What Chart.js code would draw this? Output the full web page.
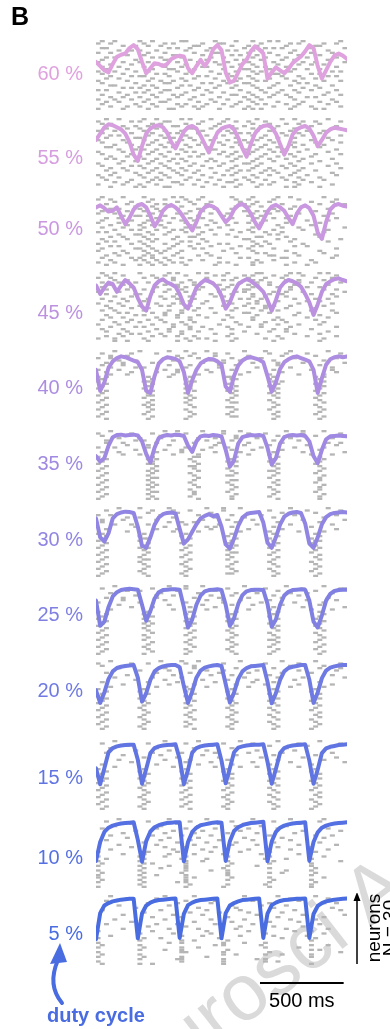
<!DOCTYPE html>
<html>
<head>
<meta charset="utf-8">
<script src="https://cdn.jsdelivr.net/npm/chart.js@4.4.1/dist/chart.umd.min.js"></script>
<style>
  body { margin: 0; background: #fff; font-family: "Liberation Sans", Arial, sans-serif; }
  #page { position: relative; width: 390px; height: 1029px; overflow: hidden; }
  canvas { position: absolute; }
  .lab { position: absolute; right: 307px; font-size: 20px; line-height: 20px; transform: translateY(-50%); white-space: nowrap; }
  #panelB { position: absolute; left: 11px; top: 2px; font-size: 25px; font-weight: bold; }
  #duty { position: absolute; left: 47px; top: 1004px; font-size: 20px; font-weight: bold; color: #4a6ce1; white-space: nowrap; }
  svg { position: absolute; left: 0; top: 0; }
</style>
</head>
<body>
<div id="page">
  <canvas id="wm" width="390" height="1029" style="left:0;top:0"></canvas>
  <div id="panelB">B</div>
  <div id="duty">duty cycle</div>
  <svg width="390" height="1029">
    <path d="M62 1003 Q47 985 58 960" fill="none" stroke="#4a6ce1" stroke-width="4" stroke-linecap="round"/>
    <path d="M60 943 L50 964 L67 962 Z" fill="#4a6ce1"/>
  </svg>
</div>
<script>
'use strict';

// duty cycles, top to bottom
const dutyLabels = ['60 %', '55 %', '50 %', '45 %', '40 %', '35 %', '30 %', '25 %', '20 %', '15 %', '10 %', '5 %'];
const traceColors = ['#e0a2df', '#d69ddf', '#ca98e0', '#bc92e0', '#ad8de1', '#9f89e2', '#9085e3', '#7f80e2', '#6f7ae2', '#6175e2', '#5570e2', '#4a6ce1'];

// population trace (normalised), one sample every 25 ms
const traceTimes = [0, 25, 50, 75, 100, 125, 150, 175, 200, 225, 250, 275, 300, 325, 350, 375, 400, 425, 450, 475,
  500, 525, 550, 575, 600, 625, 650, 675, 700, 725, 750, 775, 800, 825, 850, 875, 900, 925, 950, 975,
  1000, 1025, 1050, 1075, 1100, 1125, 1150, 1175, 1200, 1225, 1250, 1275, 1300, 1325, 1350, 1375, 1400, 1425, 1450, 1475, 1500];

const rate60 = [0.55, 0.45, 0.35, 0.30, 0.50, 0.67, 0.72, 0.75, 0.88, 0.95,
  0.85, 0.55, 0.28, 0.40, 0.52, 0.50, 0.45, 0.50, 0.62, 0.67,
  0.70, 0.68, 0.40, 0.28, 0.45, 0.60, 0.45, 0.60, 0.85, 0.95,
  0.83, 0.30, 0.06, 0.10, 0.30, 0.50, 0.60, 0.80, 0.92, 0.85,
  0.75, 0.15, 0.30, 0.42, 0.35, 0.28, 0.38, 0.52, 0.60, 0.68,
  0.80, 0.95, 0.88, 0.45, 0.15, 0.35, 0.55, 0.70, 0.75, 0.70, 0.62];
const rate55 = [0.55, 0.70, 0.85, 0.92, 0.90, 0.85, 0.80, 0.70, 0.50, 0.20,
  0.05, 0.40, 0.70, 0.82, 0.88, 0.90, 0.85, 0.72, 0.50, 0.35,
  0.55, 0.75, 0.85, 0.88, 0.82, 0.65, 0.45, 0.25, 0.50, 0.72,
  0.82, 0.86, 0.88, 0.80, 0.60, 0.35, 0.15, 0.45, 0.70, 0.82,
  0.88, 0.90, 0.85, 0.70, 0.45, 0.20, 0.40, 0.68, 0.80, 0.85,
  0.88, 0.82, 0.65, 0.40, 0.55, 0.72, 0.80, 0.84, 0.82, 0.80, 0.78];
const rate50 = [0.80, 0.85, 0.78, 0.70, 0.72, 0.80, 0.60, 0.40, 0.55, 0.75,
  0.85, 0.88, 0.80, 0.60, 0.35, 0.50, 0.72, 0.82, 0.86, 0.80,
  0.70, 0.55, 0.40, 0.25, 0.45, 0.70, 0.80, 0.85, 0.82, 0.75,
  0.60, 0.45, 0.55, 0.75, 0.85, 0.88, 0.80, 0.65, 0.45, 0.30,
  0.50, 0.70, 0.82, 0.86, 0.80, 0.72, 0.55, 0.40, 0.65, 0.80,
  0.85, 0.78, 0.60, 0.20, 0.05, 0.45, 0.75, 0.85, 0.88, 0.84, 0.82];
const rate45 = [0.75, 0.55, 0.70, 0.82, 0.78, 0.60, 0.75, 0.88, 0.80, 0.70,
  0.45, 0.25, 0.15, 0.50, 0.75, 0.85, 0.90, 0.82, 0.78, 0.72,
  0.55, 0.30, 0.20, 0.45, 0.70, 0.80, 0.88, 0.85, 0.80, 0.70,
  0.50, 0.20, 0.35, 0.60, 0.78, 0.85, 0.90, 0.86, 0.78, 0.70,
  0.60, 0.40, 0.15, 0.40, 0.70, 0.82, 0.88, 0.85, 0.80, 0.72,
  0.55, 0.35, 0.05, 0.30, 0.60, 0.78, 0.85, 0.90, 0.92, 0.88, 0.85];
const rate40 = [0.60, 0.10, 0.30, 0.65, 0.80, 0.88, 0.92, 0.90, 0.86, 0.82,
  0.78, 0.60, 0.10, 0.05, 0.45, 0.75, 0.85, 0.90, 0.88, 0.86,
  0.80, 0.55, 0.05, 0.35, 0.60, 0.75, 0.82, 0.86, 0.85, 0.80,
  0.72, 0.20, 0.08, 0.45, 0.70, 0.82, 0.88, 0.90, 0.87, 0.84,
  0.78, 0.45, 0.08, 0.30, 0.62, 0.78, 0.85, 0.90, 0.92, 0.88,
  0.84, 0.80, 0.60, 0.05, 0.40, 0.72, 0.85, 0.90, 0.92, 0.90, 0.92];
const rate35 = [0.45, 0.32, 0.40, 0.70, 0.90, 0.95, 0.96, 0.94, 0.95, 0.96,
  0.94, 0.80, 0.50, 0.30, 0.65, 0.88, 0.93, 0.95, 0.94, 0.96,
  0.95, 0.93, 0.70, 0.55, 0.80, 0.92, 0.94, 0.93, 0.95, 0.94,
  0.92, 0.60, 0.20, 0.35, 0.75, 0.90, 0.93, 0.95, 0.94, 0.95,
  0.93, 0.65, 0.25, 0.40, 0.75, 0.90, 0.94, 0.95, 0.94, 0.95,
  0.93, 0.80, 0.45, 0.28, 0.60, 0.85, 0.92, 0.93, 0.94, 0.93, 0.92];
const rate30 = [0.80, 0.35, 0.25, 0.45, 0.80, 0.90, 0.94, 0.96, 0.95, 0.93,
  0.60, 0.15, 0.10, 0.35, 0.65, 0.82, 0.90, 0.93, 0.94, 0.92,
  0.55, 0.20, 0.30, 0.48, 0.66, 0.80, 0.86, 0.90, 0.85, 0.88,
  0.60, 0.18, 0.08, 0.32, 0.62, 0.82, 0.90, 0.93, 0.94, 0.95,
  0.70, 0.22, 0.10, 0.35, 0.65, 0.84, 0.91, 0.94, 0.95, 0.93,
  0.68, 0.20, 0.10, 0.35, 0.66, 0.83, 0.90, 0.93, 0.94, 0.95, 0.94];
const rate25 = [0.70, 0.10, 0.20, 0.55, 0.80, 0.90, 0.95, 0.97, 0.98, 0.97,
  0.96, 0.60, 0.22, 0.45, 0.75, 0.90, 0.95, 0.96, 0.97, 0.97,
  0.96, 0.55, 0.06, 0.25, 0.60, 0.82, 0.92, 0.95, 0.96, 0.97,
  0.95, 0.60, 0.10, 0.28, 0.62, 0.83, 0.92, 0.95, 0.96, 0.96,
  0.95, 0.62, 0.08, 0.25, 0.60, 0.82, 0.91, 0.95, 0.96, 0.97,
  0.96, 0.70, 0.20, 0.06, 0.35, 0.70, 0.86, 0.93, 0.95, 0.96, 0.96];
const rate20 = [0.35, 0.05, 0.30, 0.62, 0.80, 0.88, 0.91, 0.93, 0.94, 0.95,
  0.65, 0.08, 0.28, 0.60, 0.80, 0.88, 0.92, 0.94, 0.95, 0.95,
  0.90, 0.45, 0.05, 0.32, 0.65, 0.82, 0.89, 0.92, 0.94, 0.95,
  0.93, 0.50, 0.06, 0.30, 0.62, 0.80, 0.88, 0.92, 0.93, 0.94,
  0.95, 0.55, 0.04, 0.28, 0.60, 0.80, 0.88, 0.91, 0.93, 0.95,
  0.95, 0.60, 0.05, 0.30, 0.64, 0.82, 0.89, 0.92, 0.94, 0.95, 0.95];
const rate15 = [0.40, 0.02, 0.40, 0.78, 0.88, 0.92, 0.94, 0.95, 0.96, 0.96,
  0.60, 0.03, 0.38, 0.76, 0.88, 0.92, 0.94, 0.95, 0.96, 0.97,
  0.62, 0.02, 0.36, 0.77, 0.88, 0.92, 0.94, 0.95, 0.96, 0.97,
  0.58, 0.04, 0.40, 0.78, 0.89, 0.92, 0.94, 0.95, 0.96, 0.96,
  0.97, 0.55, 0.03, 0.38, 0.76, 0.88, 0.92, 0.94, 0.95, 0.96,
  0.97, 0.58, 0.03, 0.37, 0.76, 0.87, 0.91, 0.93, 0.95, 0.96, 0.97];
const rate10 = [0.05, 0.50, 0.74, 0.84, 0.89, 0.92, 0.94, 0.95, 0.96, 0.97,
  0.55, 0.03, 0.52, 0.75, 0.85, 0.90, 0.93, 0.95, 0.96, 0.97,
  0.97, 0.04, 0.50, 0.74, 0.84, 0.90, 0.92, 0.94, 0.96, 0.97,
  0.96, 0.05, 0.52, 0.76, 0.85, 0.90, 0.93, 0.95, 0.96, 0.97,
  0.98, 0.04, 0.51, 0.74, 0.84, 0.89, 0.92, 0.94, 0.95, 0.96,
  0.97, 0.05, 0.50, 0.73, 0.84, 0.89, 0.92, 0.94, 0.95, 0.96, 0.97];
const rate5 = [0.02, 0.64, 0.82, 0.88, 0.92, 0.94, 0.96, 0.97, 0.98, 0.98,
  0.04, 0.63, 0.82, 0.89, 0.93, 0.95, 0.96, 0.97, 0.98, 0.99,
  0.05, 0.62, 0.83, 0.89, 0.93, 0.95, 0.96, 0.97, 0.98, 0.99,
  0.04, 0.64, 0.82, 0.88, 0.92, 0.95, 0.96, 0.97, 0.98, 0.99,
  0.05, 0.63, 0.83, 0.89, 0.93, 0.95, 0.96, 0.97, 0.98, 0.98,
  0.99, 0.05, 0.62, 0.81, 0.88, 0.92, 0.94, 0.96, 0.97, 0.98, 0.99];

// spike rasters: one string per neuron (30), each symbol is a 25 ms bin with a spike
const spikeBinMs = 25;
const binSymbols = '0123456789ABCDEFGHIJKLMNOPQRSTUVWXYZabcdefghijklmnopqrstuvwx';

const spikes60 = ['14ADKLSXbfhnw', '03BGIPTUdkmsv', '69CFNOWacjqr', '12HJMRZegipx', '58AELQVXbdlt',
  '03CGNSTafkpu', '7BIJPWYchmrw', '24DFKRUbejov', '19GHMQXZdilt', '06ACJOSVagnqx',
  '38EFLTYbhmps', '15BGKPQWcejv', '27DHINUZaflor', '049CJMRXbdkuw', '16EGLTVcghpr',
  '38ABHOQWaimtv', '25DKNSYbfjnq', '07CFILUXcelsw', '19GHPRVZahmo', '34BDKMTXbgkqu',
  '68AEJOSWcfnr', '02CGHNQYdilpv', '59BFLRUaehmt', '17DIKPWXbgjsw', '36AEJNTZcfkoq',
  '048CHMRVadlu', '25BFGOSYbhnrv', '19DJLQUXcejmt', '37AEKNPWaglpw', '06CHIOTZbdkqs'];
const spikes55 = ['25BEKMRVcilt', '08AGHPUXaenqw', '13DFLOTbfjmr', '69CIJSWZdhpv', '27AEMNRXbglu',
  '04BGKPTVcfkos', '18DHJOWYaimr', '35CFLQUbejnw', '29AGIMSXdhlt', '06BEKNRVZcfpu',
  '17DHJPTXaglqw', '48CFLOUYbekns', '23AGIMQWdhlr', '59BEKRSZcfjov', '06DHLNUXbgimt',
  '18CFJPTWaekqw', '37AGMOVYdhlp', '24BEIKRXcfjnu', '69DHLQSWbgmr', '05CFJNUZadkpv',
  '18AGMPTXcilt', '36BEHKRWbfjnw', '27DILOVYaegmq', '49CFJNSXdhlu', '03AGKPUWbfkov',
  '15BEHMRZcimr', '28DFLOTXaejns', '47CIJQVWbglp', '06AEKNSYdfmu', '39BGHPUXcjlr'];
const spikes50 = ['16BIKPWbhks', '03DGLOXagmv', '48CJMRYcfpu', '27EGNQZbirx', '09DHKQXadln',
  '35AEJOSWgkt', '17BFMPZcehq', '04DJLRVbfmu', '69ACGOUadks', '25EIMPWcgjv',
  '18CFKNRbekot', '05BHLSXadjr', '37ADFMQVchp', '16BGLOTbimx', '48AEIKRWagnt',
  '02CHLPYbeis', '59ADGOSVfhq', '36BJMNXcdjr', '17CEIPZahlw', '24ADKMQbekt',
  '08BGJOTVcfn', '35CIMRYbdlo', '19ADHNPWagv', '06BEGKUbjr', '47CFJQXcels',
  '25BDIORfgmv', '18ADGKTYaiju', '39BEHMPcgp', '04CFIKTVbdlq', '26ADGLSXbjo'];
const spikes45 = ['14AHJOQVcdkmrt', '26DGLSUZbgjnv', '03BEIQXaeiqu', '47FIMUWbdjms', '159CKNRYcfmpw',
  '36GJNTWacflt', '18EJLPVbhkor', '27BHKOUZaksv', '05DGLTXZgjnx', '29AJNRWbfipu',
  '48FIMSUbejv', '16CGJNYadlqt', '37BKMQVchor', '05EIKPWacmu', '26AFHMUZegks',
  '38CLORXbejq', '14BHKNWdhpu', '57DGKSZafmv', '29BGJOVclr', '36EJMQWbhot',
  '18CFMUbgiq', '47AGKNXejs', '05DILTYdhmr', '39BIMPVadkv', '16EHMRWgjp',
  '27CHKOZfjt', '58AFKSWclr', '26DGJNVhov', '04BLOQXeis', '47CJMSWgr'];
const spikes40 = ['4AHLQZekt', '18ENSVfjow', '37JMSaiq', '03GKOWdlv', '59IRUYgs', '26DPUbhnx', '16HMTXhr', '39BLTcku',
  '05GJQWgpu', '28EJRaiv', '37IOYfms', '02CHMVWgqs', '1DLWXfr', '0BCMNgis', '2DLVWhqr', '1CMXfgs',
  '0BLMWhr', '2DNVXgq', '1CLWfhs', '0CDMXgr', '2BLNWhq', '1DMVfr', '0CLWXgs', '2BDMhq',
  '1CNVWgr', '0DLXfs', '2CMWhr', '1BNVgq', '0DMWXhs', '2CLgr'];
const spikes35 = ['3GJPUYjns', '08DLUaenw', '1FJRXbhq', '5AFOSXcku', '29BIQWgm', '26ENTaitw', '7CHSZfov', '04CLRVdls',
  '9GKPWbir', '15EKSYgnx', '6AIOafpu', '0DNOXhr', '2CEMWgs', '1DNVXfr', '0CDOWhq', '2EMNXgr',
  '1DNVhs', '0CEOWfgr', '2DMXhq', '1CNVWgs', '0DEOfr', '2CNWXhr', '1DMVgq', '0CENWhs',
  '2DOXfr', '1CMWgr', '0DENVhq', '2CNXgs', '1DMWfr', '0CEOWhr'];
const spikes30 = ['5AHQUYkt', '2DIMUfow', '8CJRaiq', '03FOWdlv', '7AISZgs', '16EPVbnx', '1HKNXhr', '48CLTcku',
  '9GQSWgp', '2EJRaiv', '7IOYfms', '01BLWgq', '2AKVhr', '1BCMXfp', '0ALWgqr', '2CKVWhp',
  '1BMXgq', '0ACLWfr', '2BKVhq', '1CMWXgp', '0BLVfr', '2AKWhq', '1BCMVgr', '0ALXfp',
  '2BKWgq', '1CLVhr', '0BMWfq', '2ALXgp', '1BKVWhr', '0CLgq'];
const spikes25 = ['4HLPZjs', '1DLVenwx', '7AJSbhq', '3FOXckou', '9EIRWgm', '26ENTait', '6GQUYfov', '0ALUdls',
  '5HPWbir', '8DMSgnx', '3IQafpu', '0CMXhr', '2BLWgs', '1DNVfr', '0BMWXhq', '2CLVgs',
  '1BDNWfr', '0CMXhq', '2BLWgr', '1CNVhs', '0DMWfq', '2BLXgr', '1CNWhs', '0BMVfgr',
  '2DLWhq', '1CMXgs', '0BNWfr', '2CLVhq', '1DMWgs', '0BLXfr'];
const spikes20 = ['3FKOYiq', '08CLUemw', '1JNSbks', '5GNXgrw', 'AHQUcmv', '2EMTaip', '7IRWfu', '4DKZhnx',
  '9GPVcl', '1CJSbgr', '6HNXemu', '3ELQaks', '0BMWgq', '2ALVhp', '1CNXfr', '0BLWgq',
  '2AMVhr', '1BNWfp', '0CLXgq', '2BMWhr', '1ALVfq', '0BNWgp', '2CMXhr', '1BLWfq',
  '0AMVgr', '2BNWhp', '1CLXfq', '0BMWgr', '2ALVhq', '1BNWgp'];
const spikes15 = ['4GOYhr', '1CLUbmw', '7IRZfo', '3ENWjt', '9HQcl', '2DKSaiu', '6FPXgq', 'BJTdnv', '5GMVhs', '8LRbkx',
  '1EOWfp', '4ISYcm', '0BLVgq', '2AKUhp', '1CMWfr', '0BLVgq', '2AKWhr', '1BMUfp', '0CLVgq', '2BKWhr',
  '1AMVfq', '0BLUgp', '2CKWhr', '1BMVfq', '0ALUgr', '2BKVhp', '1CMWfq', '0BLVgr', '2AKUhq', '1BMVgp'];
const spikes10 = ['5HQbks', '2CMWgr', '8JTZmv', '4FOXdj', '1ELSaht', '9IPYnw', '6GNVcl', '3DKRfqu', '7HOZis', '2FMTbk',
  'BJQXgr', '5ENWcmv', '8GLShp', '3IPakt', '0CJRYfq', '6BHNUdm', '0AGLVfs', '2BKQejp', '0ALPVgw', '1BDLWfp',
  '0AHLVcp', 'BFLUfq', '0ALRVjp', '1BKVfiq', '0AELVp', '0BLNWfs', '1ALVgp', '0BJLfq', 'AMVep', '0BLUfp'];
const spikes5 = ['3GNZhq', '7Eckt', '2LSbm', 'CJRfsv', '5HWdj', '9OXgu', '1FQYlw', 'BMTai', '6IPcnx', 'DKVhs',
  '4GRZkq', '8NWfm', '2EJSbr', 'CLYgn', '6HOXjt', '0DQalp', 'AIRes', '3KPYgo', '0BFTiq', 'AKNVp',
  '0HKUZe', '1ASUdpt', '0BKOem', 'AGKVpr', '0KLUfw', '1AUXeip', '0BKQp', 'AJKUce', '0KUeh', '1ADUp'];

const rateSeries = [rate60, rate55, rate50, rate45, rate40, rate35, rate30, rate25, rate20, rate15, rate10, rate5];
const spikeSeries = [spikes60, spikes55, spikes50, spikes45, spikes40, spikes35, spikes30, spikes25, spikes20, spikes15, spikes10, spikes5];

const neuronCount = 30;
const timeMax = 1500;
const scaleBarStart = 980;
const scaleBarMs = 500;

// layout (page pixels)
const panelTops = [40, 118, 196, 272, 350, 430, 507, 585, 660, 740, 818, 895];
const labelCenters = [73, 157, 228, 312, 387, 463, 539, 614, 690, 777, 857, 933];
const panelHeight = 70;
const plotLeft = 96, plotRight = 347;

const page = document.getElementById('page');

function toSpikePoints(rows) {
    const pts = [];
    rows.forEach((row, n) => {
        for (const ch of row) {
            const bin = binSymbols.indexOf(ch);
            if (bin < 0) continue;
            pts.push({ x: bin * spikeBinMs + spikeBinMs / 2, y: n + 0.5 });
        }
    });
    return pts;
}

function toTracePoints(values) {
    return traceTimes.map((t, i) => ({ x: t, y: values[i] }));
}

// draws the 500 ms bar and the neuron arrow under / beside the last raster
const annotatePlugin = {
    id: 'annotate',
    afterDraw(chart) {
        const { ctx, scales, chartArea } = chart;
        const x0 = scales.x.getPixelForValue(scaleBarStart);
        const x1 = scales.x.getPixelForValue(scaleBarStart + scaleBarMs);
        const yb = chartArea.bottom + 18;
        ctx.save();
        ctx.strokeStyle = '#000';
        ctx.fillStyle = '#000';
        ctx.lineWidth = 2;
        ctx.beginPath();
        ctx.moveTo(x0, yb);
        ctx.lineTo(x1, yb);
        ctx.stroke();
        ctx.font = '20px "Liberation Sans", Arial, sans-serif';
        ctx.textAlign = 'center';
        ctx.fillText(scaleBarMs + ' ms', (x0 + x1) / 2, chartArea.bottom + 42);

        const ax = chartArea.right + 10;
        const yLow = scales.yNeuron.getPixelForValue(neuronCount) - 1;
        const yTop = scales.yNeuron.getPixelForValue(0) - 3;
        ctx.lineWidth = 1.5;
        ctx.beginPath();
        ctx.moveTo(ax, yLow);
        ctx.lineTo(ax, yTop + 6);
        ctx.stroke();
        ctx.beginPath();
        ctx.moveTo(ax, yTop);
        ctx.lineTo(ax - 3.5, yTop + 9);
        ctx.lineTo(ax + 3.5, yTop + 9);
        ctx.closePath();
        ctx.fill();

        const yMid = (yLow + yTop) / 2;
        ctx.translate(chartArea.right + 33, yMid);
        ctx.rotate(-Math.PI / 2);
        ctx.font = '19px "Liberation Sans", Arial, sans-serif';
        ctx.fillText('neurons', 0, 0);
        ctx.fillText('N = ' + neuronCount, 0, 16);
        ctx.restore();
    }
};

dutyLabels.forEach((label, i) => {
    const last = i === dutyLabels.length - 1;
    const lab = document.createElement('div');
    lab.className = 'lab';
    lab.style.top = labelCenters[i] + 'px';
    lab.style.color = traceColors[i];
    lab.textContent = label;
    page.appendChild(lab);

    const cv = document.createElement('canvas');
    const left = plotLeft - 2;
    const top = panelTops[i] - 2;
    const width = last ? 390 - left : plotRight + 2 - left;
    const height = last ? 1029 - top : panelHeight + 4;
    cv.width = width;
    cv.height = height;
    cv.style.left = left + 'px';
    cv.style.top = top + 'px';
    page.appendChild(cv);

    new Chart(cv, {
        type: 'scatter',
        data: {
            datasets: [{
                type: 'line',
                data: toTracePoints(rateSeries[i]),
                yAxisID: 'yRate',
                showLine: true,
                fill: false,
                borderColor: traceColors[i],
                borderWidth: 4,
                borderJoinStyle: 'round',
                borderCapStyle: 'round',
                pointRadius: 0,
                tension: 0,
                order: 0
            }, {
                data: toSpikePoints(spikeSeries[i]),
                yAxisID: 'yNeuron',
                pointStyle: 'line',
                pointRadius: 2.5,
                pointBorderWidth: 2.3,
                pointBorderColor: '#b5b5b5',
                pointBackgroundColor: '#b5b5b5',
                borderColor: '#b5b5b5',
                order: 1
            }]
        },
        options: {
            responsive: false,
            animation: false,
            events: [],
            layout: {
                autoPadding: false,
                padding: { left: 2, right: last ? 390 - plotRight : 2, top: 2, bottom: last ? 1029 - (panelTops[i] + panelHeight) : 2 }
            },
            plugins: { legend: { display: false }, tooltip: { enabled: false } },
            scales: {
                x: { type: 'linear', axis: 'x', min: 0, max: timeMax, display: false },
                yNeuron: { type: 'linear', axis: 'y', min: 0, max: neuronCount, reverse: true, display: false },
                yRate: { type: 'linear', axis: 'y', min: -0.595, max: 1.071, display: false }
            }
        },
        plugins: last ? [annotatePlugin] : []
    });
});

// faint watermark of the source page
const wm = document.getElementById('wm').getContext('2d');
wm.save();
wm.translate(72, 1160);
wm.rotate(-38 * Math.PI / 180);
wm.font = '80px "Liberation Sans", Arial, sans-serif';
wm.fillStyle = 'rgba(205,205,205,0.75)';
wm.fillText('JNeurosci Accepted Manuscript', 0, 0);
wm.restore();
</script>
</body>
</html>
